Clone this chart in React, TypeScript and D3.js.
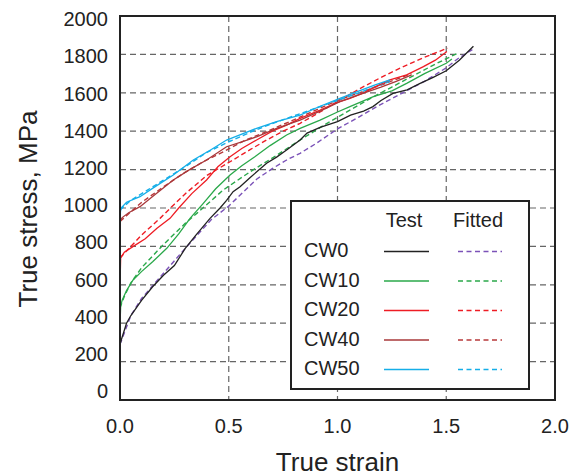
import React from "react";
import * as d3 from "d3";

// ---- Data ----
const seriesNames = ["CW0", "CW10", "CW20", "CW40", "CW50"];

const cw0TestStrain = [0, 0.005, 0.03, 0.05, 0.1, 0.15, 0.2, 0.25, 0.3, 0.35, 0.414, 0.46, 0.49, 0.52, 0.552, 0.6, 0.674, 0.72, 0.766, 0.828, 0.86, 0.92, 1.0, 1.06, 1.12, 1.163, 1.2, 1.255, 1.32, 1.38, 1.44, 1.5, 1.56, 1.625];
const cw0TestStress = [290, 310, 400, 440, 520, 590, 650, 700, 790, 860, 946, 1000, 1040, 1085, 1111, 1160, 1233, 1265, 1302, 1354, 1390, 1420, 1450, 1484, 1505, 1528, 1560, 1597, 1615, 1649, 1680, 1715, 1770, 1842];
const cw0FitStrain = [0, 0.05, 0.1, 0.2, 0.3, 0.42, 0.5, 0.628, 0.7, 0.766, 0.828, 0.9, 1.0, 1.1, 1.2, 1.3, 1.4, 1.5, 1.55, 1.62];
const cw0FitStress = [290, 440, 530, 660, 790, 940, 1010, 1150, 1205, 1250, 1285, 1335, 1412, 1475, 1540, 1600, 1660, 1730, 1775, 1825];

const cw10TestStrain = [0, 0.003, 0.01, 0.03, 0.06, 0.1, 0.15, 0.215, 0.27, 0.322, 0.38, 0.44, 0.506, 0.56, 0.62, 0.69, 0.766, 0.828, 0.92, 1.0, 1.057, 1.165, 1.25, 1.318, 1.4, 1.5, 1.526];
const cw10TestStress = [390, 490, 520, 570, 625, 670, 720, 790, 865, 946, 1020, 1100, 1172, 1220, 1267, 1325, 1380, 1415, 1458, 1500, 1528, 1580, 1610, 1649, 1700, 1754, 1776];
const cw10FitStrain = [0, 0.02, 0.05, 0.1, 0.2, 0.3, 0.353, 0.475, 0.6, 0.7, 0.828, 0.95, 1.057, 1.15, 1.25, 1.35, 1.45, 1.554];
const cw10FitStress = [480, 540, 610, 690, 810, 920, 972, 1094, 1190, 1260, 1354, 1440, 1510, 1570, 1630, 1690, 1750, 1807];

const cw20TestStrain = [0, 0.003, 0.02, 0.061, 0.116, 0.17, 0.23, 0.27, 0.33, 0.398, 0.45, 0.506, 0.56, 0.628, 0.7, 0.766, 0.828, 0.92, 1.0, 1.057, 1.12, 1.18, 1.241, 1.318, 1.395, 1.45, 1.503];
const cw20TestStress = [600, 740, 770, 800, 840, 895, 946, 1000, 1075, 1146, 1215, 1267, 1310, 1354, 1400, 1432, 1467, 1510, 1550, 1571, 1600, 1635, 1667, 1693, 1736, 1770, 1815];
const cw20FitStrain = [0, 0.05, 0.1, 0.184, 0.25, 0.306, 0.4, 0.506, 0.6, 0.674, 0.75, 0.828, 0.92, 1.0, 1.1, 1.2, 1.3, 1.4, 1.505];
const cw20FitStress = [740, 800, 860, 946, 1020, 1080, 1170, 1241, 1305, 1354, 1400, 1441, 1500, 1555, 1620, 1680, 1735, 1785, 1832];

const cw40TestStrain = [0, 0.002, 0.01, 0.04, 0.092, 0.15, 0.245, 0.32, 0.398, 0.49, 0.56, 0.628, 0.72, 0.828, 0.92, 1.011, 1.1, 1.2, 1.27, 1.341];
const cw40TestStress = [880, 935, 950, 975, 1007, 1060, 1146, 1200, 1250, 1319, 1345, 1371, 1415, 1458, 1505, 1554, 1590, 1630, 1660, 1693];
const cw40FitStrain = [0, 0.05, 0.1, 0.2, 0.291, 0.38, 0.475, 0.57, 0.674, 0.78, 0.9, 1.0, 1.1, 1.2, 1.34];
const cw40FitStress = [930, 980, 1030, 1110, 1180, 1240, 1293, 1350, 1398, 1450, 1510, 1560, 1600, 1640, 1700];

const cw50TestStrain = [0, 0.002, 0.005, 0.03, 0.092, 0.16, 0.245, 0.337, 0.42, 0.49, 0.56, 0.628, 0.72, 0.828, 0.92, 1.011, 1.1, 1.17, 1.241];
const cw50TestStress = [820, 980, 1000, 1030, 1059, 1110, 1172, 1250, 1305, 1354, 1385, 1415, 1450, 1484, 1530, 1571, 1610, 1640, 1667];
const cw50FitStrain = [0, 0.05, 0.1, 0.2, 0.3, 0.4, 0.5, 0.6, 0.7, 0.8, 0.9, 1.0, 1.1, 1.241];
const cw50FitStress = [990, 1040, 1075, 1145, 1215, 1290, 1345, 1395, 1440, 1480, 1520, 1560, 1600, 1660];

const xTicks = [0, 0.5, 1.0, 1.5, 2.0];
const yTicks = [0, 200, 400, 600, 800, 1000, 1200, 1400, 1600, 1800, 2000];

// ---- Styles ----
const testColors = ["#222222", "#2aa84a", "#ee1c24", "#a8383a", "#15aee8"];
const fitColors = ["#7b52b8", "#2aa84a", "#ee1c24", "#b8383a", "#15aee8"];
const FONT = "'Liberation Sans', Arial, sans-serif";

const zip = (a: number[], b: number[]) => a.map((v, i) => [v, b[i]] as [number, number]);

const testData = [
  zip(cw0TestStrain, cw0TestStress),
  zip(cw10TestStrain, cw10TestStress),
  zip(cw20TestStrain, cw20TestStress),
  zip(cw40TestStrain, cw40TestStress),
  zip(cw50TestStrain, cw50TestStress),
];
const fitData = [
  zip(cw0FitStrain, cw0FitStress),
  zip(cw10FitStrain, cw10FitStress),
  zip(cw20FitStrain, cw20FitStress),
  zip(cw40FitStrain, cw40FitStress),
  zip(cw50FitStrain, cw50FitStress),
];

export default function App() {
  const W = 578, H = 476;
  const left = 120, right = 555, top = 16, bottom = 400;
  const x = d3.scaleLinear().domain([0, 2]).range([left, right]);
  const y = d3.scaleLinear().domain([0, 2000]).range([bottom, top]);
  const yLabel = d3.scaleLinear().domain([0, 2000]).range([391, 19]);
  const line = d3.line<[number, number]>().x((d) => x(d[0])).y((d) => y(d[1]));

  const lgX = 291, lgY = 201, lgW = 238, lgH = 188;
  const rowY = (i: number) => 257 + i * 29.5;

  return (
    <svg width={W} height={H} style={{ position: "absolute", left: 0, top: 0, background: "#fff" }}>
      <rect x={0} y={0} width={W} height={H} fill="#fff" />
      {/* grid */}
      {xTicks.filter((t) => t > 0 && t < 2).map((t) => (
        <line key={"gx" + t} x1={x(t)} x2={x(t)} y1={top} y2={bottom} stroke="#666" strokeWidth={1.2} strokeDasharray="6,4" />
      ))}
      {yTicks.filter((t) => t > 0 && t < 2000).map((t) => (
        <line key={"gy" + t} x1={left} x2={right} y1={y(t)} y2={y(t)} stroke="#666" strokeWidth={1.2} strokeDasharray="6,4" />
      ))}
      {/* fitted curves */}
      {fitData.map((d, i) => (
        <path key={"f" + i} d={line(d) || ""} fill="none" stroke={fitColors[i]} strokeWidth={1.4} strokeDasharray="5,3" />
      ))}
      {/* test curves */}
      {testData.map((d, i) => (
        <path key={"t" + i} d={line(d) || ""} fill="none" stroke={testColors[i]} strokeWidth={1.3} />
      ))}
      {/* frame */}
      <rect x={left} y={top} width={right - left} height={bottom - top} fill="none" stroke="#222" strokeWidth={2} />
      {/* tick labels */}
      {yTicks.map((t) => (
        <text key={"yl" + t} x={108} y={yLabel(t)} dy="0.36em" textAnchor="end" fontFamily={FONT} fontSize={20} fill="#222">{t}</text>
      ))}
      {xTicks.map((t) => (
        <text key={"xl" + t} x={x(t)} y={433} textAnchor="middle" fontFamily={FONT} fontSize={20} fill="#222">{t.toFixed(1)}</text>
      ))}
      {/* axis titles */}
      <text x={x(1)} y={471} textAnchor="middle" fontFamily={FONT} fontSize={26} fill="#222">True strain</text>
      <text transform={`translate(37,${209}) rotate(-90)`} textAnchor="middle" fontFamily={FONT} fontSize={26} fill="#222">True stress, MPa</text>
      {/* legend */}
      <rect x={lgX} y={lgY} width={lgW} height={lgH} fill="#fff" stroke="#222" strokeWidth={2} />
      <text x={404} y={227} textAnchor="middle" fontFamily={FONT} fontSize={20} fill="#222">Test</text>
      <text x={478} y={227} textAnchor="middle" fontFamily={FONT} fontSize={20} fill="#222">Fitted</text>
      {seriesNames.map((n, i) => (
        <g key={"lg" + n}>
          <text x={304} y={rowY(i)} fontFamily={FONT} fontSize={20} fill="#222">{n}</text>
          <line x1={384} x2={429} y1={rowY(i) - 5.5} y2={rowY(i) - 5.5} stroke={testColors[i]} strokeWidth={1.6} />
          <line x1={458} x2={502} y1={rowY(i) - 5.5} y2={rowY(i) - 5.5} stroke={fitColors[i]} strokeWidth={1.6} strokeDasharray="5,3.5" />
        </g>
      ))}
    </svg>
  );
}
